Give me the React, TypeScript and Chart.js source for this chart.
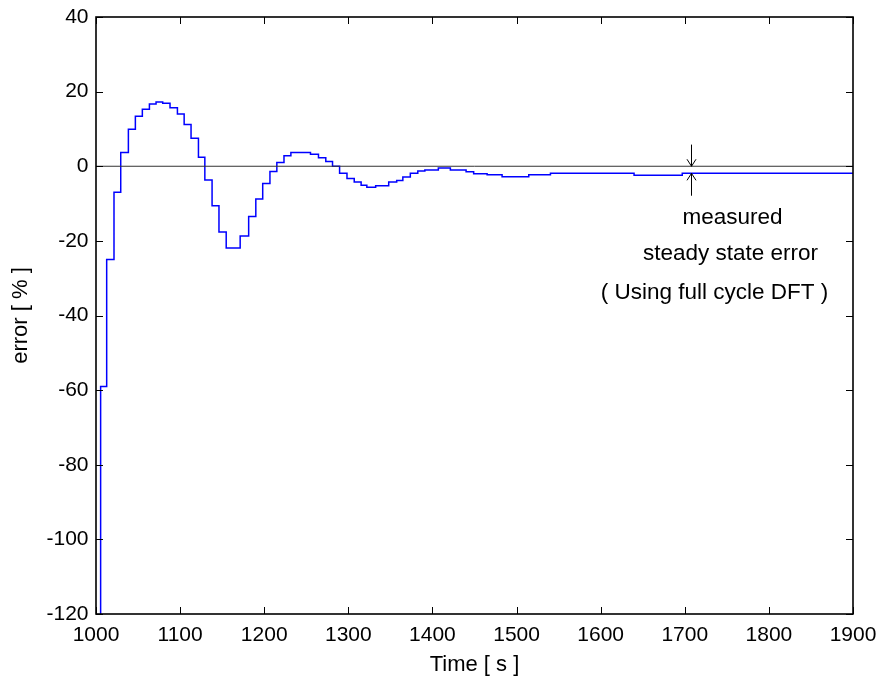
import React, { useEffect, useRef } from "react";
import { Chart, registerables } from "chart.js";

Chart.register(...registerables);

// ---- data ----
const stepTimes: number[] = [
  1003, 1005.5, 1012.7, 1021.4, 1029.4, 1038.5, 1046.8, 1055.1, 1063.5, 1071.4,
  1079.3, 1088, 1096.8, 1104.8, 1113, 1121.8, 1129.4, 1138, 1146.2, 1154.8,
  1171.4, 1181.5, 1190, 1198.2, 1206.8, 1215, 1223.5, 1231.7, 1255, 1264.5,
  1273.2, 1281.2, 1289.6, 1298.4, 1307, 1315.2, 1322, 1332.5, 1348, 1357.5,
  1364.8, 1373.7, 1382.6, 1391, 1407, 1421.3, 1440, 1449, 1465, 1482.8,
  1514.5, 1540.3, 1639.7, 1697, 1900,
];
const stepValues: number[] = [
  -130, -59, -25, -7, 3.7, 9.9, 13.4, 15.3, 16.7, 17.2,
  16.9, 15.7, 14.0, 11.2, 7.5, 2.4, -3.7, -10.6, -17.6, -21.9,
  -18.7, -13.5, -8.8, -4.6, -1.4, 1.0, 2.8, 3.7, 3.2, 2.3,
  1.3, 0.0, -1.9, -3.3, -4.2, -5.1, -5.6, -5.2, -4.2, -3.8,
  -2.9, -1.9, -1.3, -1.0, -0.5, -1.0, -1.5, -2.0, -2.3, -2.8,
  -2.3, -1.9, -2.4, -1.9, -1.9,
];
const zeroLineX: number[] = [1000, 1900];
const zeroLineY: number[] = [0, 0];

const xTicks: number[] = [1000, 1100, 1200, 1300, 1400, 1500, 1600, 1700, 1800, 1900];
const yTicks: number[] = [-120, -100, -80, -60, -40, -20, 0, 20, 40];

const xTitle = "Time [ s ]";
const yTitle = "error [ % ]";
const noteLines: string[] = ["measured", "steady state error", "( Using full cycle DFT )"];
// arrow annotation in data units: x, down-arrow (start, tip), up-arrow (tip, end)
const arrowX = 1707;
const downArrow: number[] = [5.8, 0];
const upArrow: number[] = [-1.9, -7.9];

const FONT = "'Liberation Sans', Arial, Helvetica, sans-serif";

const framePlugin = {
  id: "matlabFrame",
  afterDatasetsDraw(chart: any) {
    const { ctx, chartArea } = chart;
    const { left, right, top, bottom } = chartArea;
    const xs = chart.scales.x;
    const ys = chart.scales.y;
    ctx.save();
    ctx.strokeStyle = "#000";
    ctx.lineWidth = 1;
    const tl = 7;
    ctx.beginPath();
    xTicks.forEach((v) => {
      const px = Math.round(xs.getPixelForValue(v)) + 0.5;
      ctx.moveTo(px, bottom);
      ctx.lineTo(px, bottom - tl);
      ctx.moveTo(px, top);
      ctx.lineTo(px, top + tl);
    });
    yTicks.forEach((v) => {
      const py = Math.round(ys.getPixelForValue(v)) + 0.5;
      ctx.moveTo(left, py);
      ctx.lineTo(left + tl, py);
      ctx.moveTo(right, py);
      ctx.lineTo(right - tl, py);
    });
    ctx.stroke();

    ctx.lineWidth = 1.6;
    ctx.strokeRect(left, top, right - left, bottom - top);

    // arrows
    ctx.lineWidth = 1;
    const ax = Math.round(xs.getPixelForValue(arrowX)) + 0.5;
    const d0 = ys.getPixelForValue(downArrow[0]);
    const d1 = ys.getPixelForValue(downArrow[1]);
    const u0 = ys.getPixelForValue(upArrow[0]);
    const u1 = ys.getPixelForValue(upArrow[1]);
    ctx.beginPath();
    ctx.moveTo(ax, d0);
    ctx.lineTo(ax, d1);
    ctx.moveTo(ax - 4.5, d1 - 7);
    ctx.lineTo(ax, d1);
    ctx.lineTo(ax + 4.5, d1 - 7);
    ctx.moveTo(ax, u1);
    ctx.lineTo(ax, u0);
    ctx.moveTo(ax - 4.5, u0 + 7);
    ctx.lineTo(ax, u0);
    ctx.lineTo(ax + 4.5, u0 + 7);
    ctx.stroke();

    // annotation text
    ctx.fillStyle = "#000";
    ctx.textAlign = "center";
    ctx.textBaseline = "alphabetic";
    ctx.font = `22.5px ${FONT}`;
    ctx.fillText(noteLines[0], 732.5, 223.5);
    ctx.fillText(noteLines[1], 730.5, 259.5);
    ctx.fillText(noteLines[2], 714.5, 298.5);

    // axis titles
    ctx.font = `22px ${FONT}`;
    ctx.fillText(xTitle, (left + right) / 2, 671);
    ctx.translate(26.5, (top + bottom) / 2);
    ctx.rotate(-Math.PI / 2);
    ctx.fillText(yTitle, 0, 0);
    ctx.restore();
  },
};

export default function App() {
  const ref = useRef<HTMLCanvasElement | null>(null);

  useEffect(() => {
    document.body.style.margin = "0";
    const canvas = ref.current;
    if (!canvas) return;
    const stepData = stepTimes.map((t, i) => ({ x: t, y: stepValues[i] }));
    const zeroData = zeroLineX.map((t, i) => ({ x: t, y: zeroLineY[i] }));
    const chart = new Chart(canvas, {
      type: "line",
      data: {
        datasets: [
          {
            data: zeroData,
            borderColor: "#333333",
            borderWidth: 1,
            pointRadius: 0,
            fill: false,
          },
          {
            data: stepData,
            borderColor: "#0000ff",
            borderWidth: 1.5,
            pointRadius: 0,
            stepped: "before",
            fill: false,
          },
        ],
      },
      options: {
        animation: false,
        responsive: false,
        devicePixelRatio: 1,
        events: [],
        layout: { padding: { top: 17, right: 26, left: 0, bottom: 0 } },
        plugins: {
          legend: { display: false },
          tooltip: { enabled: false },
          title: { display: false },
        },
        scales: {
          x: {
            type: "linear",
            min: 1000,
            max: 1900,
            grid: { display: false, drawTicks: false },
            border: { display: false },
            afterFit: (s: any) => {
              s.height = 62;
              s.paddingLeft = 0;
              s.paddingRight = 0;
            },
            afterBuildTicks: (s: any) => {
              s.ticks = xTicks.map((v) => ({ value: v }));
            },
            ticks: {
              padding: 9,
              color: "#000",
              maxRotation: 0,
              autoSkip: false,
              font: { family: FONT, size: 21 },
              callback: (v: any) => String(v),
            },
          },
          y: {
            type: "linear",
            min: -120,
            max: 40,
            grid: { display: false, drawTicks: false },
            border: { display: false },
            afterFit: (s: any) => {
              s.width = 96;
              s.paddingTop = 0;
              s.paddingBottom = 0;
            },
            afterBuildTicks: (s: any) => {
              s.ticks = yTicks.map((v) => ({ value: v }));
            },
            ticks: {
              padding: 7.5,
              color: "#000",
              autoSkip: false,
              font: { family: FONT, size: 21 },
              callback: (v: any) => String(v),
            },
          },
        },
      },
      plugins: [framePlugin],
    });
    return () => chart.destroy();
  }, []);

  return (
    <div style={{ width: 879, height: 676, background: "#fff" }}>
      <canvas ref={ref} width={879} height={676} style={{ display: "block", width: 879, height: 676 }} />
    </div>
  );
}
